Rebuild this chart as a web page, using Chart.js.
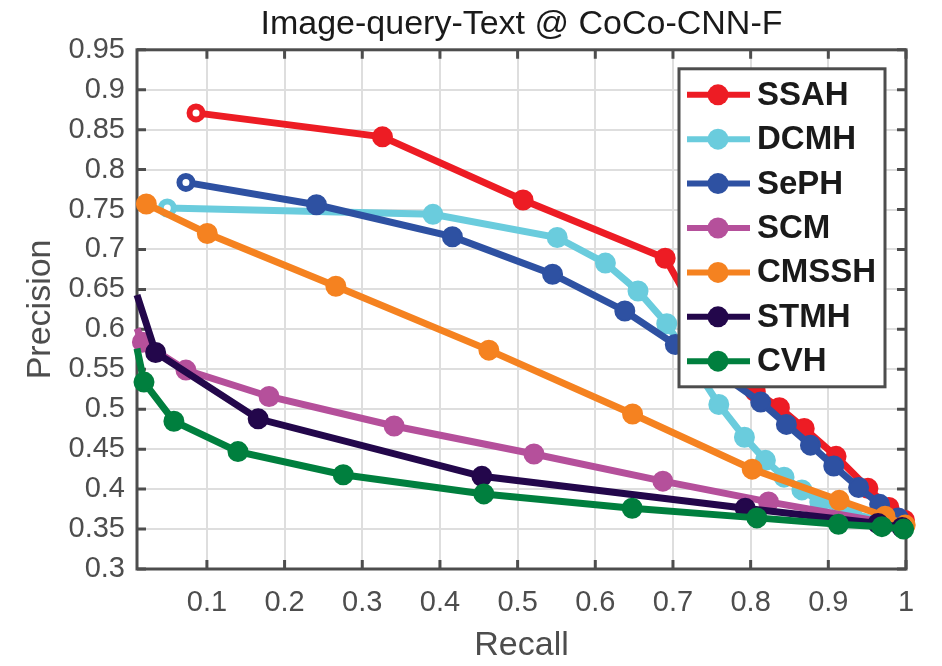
<!DOCTYPE html>
<html>
<head>
<meta charset="utf-8">
<script src="https://cdn.jsdelivr.net/npm/chart.js@4.4.1/dist/chart.umd.min.js"></script>
<style>
  html, body { margin: 0; padding: 0; background: #fff; }
  #wrap { width: 942px; height: 666px; }
</style>
</head>
<body>
<div id="wrap"><canvas id="prChart" width="942" height="666"></canvas></div>
<script>
// values (recall / precision)
var methods = ['SSAH', 'DCMH', 'SePH', 'SCM', 'CMSSH', 'STMH', 'CVH'];

var recallSSAH = [0.086, 0.326, 0.507, 0.690, 0.730, 0.806, 0.837, 0.869, 0.910, 0.951, 0.978, 0.998];
var precSSAH   = [0.871, 0.841, 0.762, 0.689, 0.620, 0.522, 0.502, 0.476, 0.441, 0.401, 0.377, 0.361];

var recallDCMH = [0.049, 0.391, 0.551, 0.613, 0.655, 0.692, 0.759, 0.792, 0.819, 0.843, 0.866, 0.889, 0.930, 0.968];
var precDCMH   = [0.752, 0.744, 0.715, 0.683, 0.648, 0.607, 0.506, 0.465, 0.436, 0.415, 0.399, 0.384, 0.370, 0.360];

var recallSePH = [0.073, 0.241, 0.416, 0.545, 0.638, 0.703, 0.760, 0.813, 0.846, 0.877, 0.907, 0.939, 0.966, 0.990];
var precSePH   = [0.784, 0.756, 0.716, 0.669, 0.623, 0.581, 0.545, 0.509, 0.481, 0.455, 0.429, 0.402, 0.381, 0.364];

var recallSCM = [0.010, 0.017, 0.073, 0.180, 0.341, 0.521, 0.687, 0.823, 0.975];
var precSCM   = [0.601, 0.584, 0.549, 0.516, 0.479, 0.444, 0.410, 0.384, 0.358];

var recallCMSSH = [0.022, 0.1005, 0.266, 0.463, 0.648, 0.802, 0.914, 0.973, 0.999];
var precCMSSH   = [0.757, 0.720, 0.654, 0.574, 0.494, 0.425, 0.386, 0.366, 0.355];

var recallSTMH = [0.010, 0.034, 0.166, 0.454, 0.793, 0.964, 0.995];
var precSTMH   = [0.643, 0.571, 0.488, 0.416, 0.376, 0.357, 0.352];

var recallCVH = [0.010, 0.019, 0.0575, 0.140, 0.2755, 0.4565, 0.6475, 0.808, 0.913, 0.969, 0.997];
var precCVH   = [0.576, 0.534, 0.485, 0.447, 0.418, 0.394, 0.376, 0.364, 0.356, 0.353, 0.350];

var xTicks = [0.1, 0.2, 0.3, 0.4, 0.5, 0.6, 0.7, 0.8, 0.9, 1];
var yTicks = [0.3, 0.35, 0.4, 0.45, 0.5, 0.55, 0.6, 0.65, 0.7, 0.75, 0.8, 0.85, 0.9, 0.95];

var colors = ['#ED1C24', '#6ACCDD', '#2E51A2', '#B5509B', '#F58220', '#23074B', '#007F3E'];
// how the first point of each curve looks: 'ring', 'dot' or 'none'
var firstPoint = ['ring', 'ring', 'ring', 'none', 'dot', 'none', 'none'];

var recalls = [recallSSAH, recallDCMH, recallSePH, recallSCM, recallCMSSH, recallSTMH, recallCVH];
var precisions = [precSSAH, precDCMH, precSePH, precSCM, precCMSSH, precSTMH, precCVH];

var FONT = '"Liberation Sans", Arial, Helvetica, sans-serif';

function makeDataset(i) {
  var pts = recalls[i].map(function (r, k) { return { x: r, y: precisions[i][k] }; });
  var radius = [], border = [], fill = [];
  pts.forEach(function (p, k) {
    if (k === 0 && firstPoint[i] === 'ring') { radius.push(6.5); border.push(6); fill.push('#ffffff'); }
    else if (k === 0 && firstPoint[i] === 'none') { radius.push(0); border.push(0); fill.push(colors[i]); }
    else { radius.push(9.5); border.push(2); fill.push(colors[i]); }
  });
  return {
    label: methods[i],
    data: pts,
    borderColor: colors[i],
    backgroundColor: colors[i],
    borderWidth: 7,
    pointRadius: radius,
    pointBorderWidth: border,
    pointBackgroundColor: fill,
    pointBorderColor: colors[i],
    pointHoverRadius: radius,
    tension: 0,
    clip: false,
    order: methods.length - i
  };
}

// box, inward tick marks
var framePlugin = {
  id: 'frame',
  beforeDatasetsDraw: function (chart) {
    var a = chart.chartArea, c = chart.ctx;
    var sx = chart.scales.x, sy = chart.scales.y;
    c.save();
    c.strokeStyle = '#4d4d4d';
    c.lineWidth = 3;
    c.strokeRect(a.left, a.top, a.right - a.left, a.bottom - a.top);
    c.beginPath();
    xTicks.forEach(function (v) {
      var p = sx.getPixelForValue(v);
      c.moveTo(p, a.bottom); c.lineTo(p, a.bottom - 9);
      c.moveTo(p, a.top); c.lineTo(p, a.top + 9);
    });
    yTicks.forEach(function (v) {
      var p = sy.getPixelForValue(v);
      c.moveTo(a.left, p); c.lineTo(a.left + 9, p);
      c.moveTo(a.right, p); c.lineTo(a.right - 9, p);
    });
    c.stroke();
    c.restore();
  }
};

// boxed legend in the upper right corner, line + marker + bold name
var boxLegend = {
  id: 'boxLegend',
  afterDraw: function (chart) {
    var a = chart.chartArea, c = chart.ctx;
    var w = 206, h = 318;
    var left = a.right - 21 - w, top = a.top + 19;
    c.save();
    c.fillStyle = '#ffffff';
    c.fillRect(left, top, w, h);
    c.strokeStyle = '#4d4d4d';
    c.lineWidth = 3;
    c.strokeRect(left, top, w, h);
    c.font = 'bold 33px ' + FONT;
    c.textBaseline = 'middle';
    c.textAlign = 'left';
    methods.forEach(function (name, i) {
      var y = top + 26 + i * 44.4;
      c.strokeStyle = colors[i];
      c.lineWidth = 6;
      c.beginPath();
      c.moveTo(left + 8, y);
      c.lineTo(left + 71, y);
      c.stroke();
      c.fillStyle = colors[i];
      c.beginPath();
      c.arc(left + 39, y, 10.5, 0, Math.PI * 2);
      c.fill();
      c.fillStyle = '#1a1a1a';
      c.fillText(name, left + 78, y + 1);
    });
    c.restore();
  }
};

new Chart(document.getElementById('prChart'), {
  type: 'line',
  data: { datasets: methods.map(function (m, i) { return makeDataset(i); }) },
  plugins: [framePlugin, boxLegend],
  options: {
    responsive: false,
    animation: false,
    layout: { padding: { top: 0, right: 36, bottom: 0, left: 0 } },
    plugins: {
      legend: { display: false },
      tooltip: { enabled: false },
      title: {
        display: true,
        fullSize: false,
        text: 'Image-query-Text @ CoCo-CNN-F',
        color: '#1a1a1a',
        font: { family: FONT, size: 34, weight: 'normal', lineHeight: 1.2 },
        padding: { top: 4, bottom: 5 }
      }
    },
    scales: {
      x: {
        type: 'linear',
        min: 0.01,
        max: 1,
        afterBuildTicks: function (scale) {
          scale.ticks = xTicks.map(function (v) { return { value: v }; });
        },
        afterFit: function (scale) { scale.height = 97; },
        grid: { color: '#dedede', lineWidth: 2, drawTicks: false },
        border: { display: false },
        ticks: {
          color: '#4d4d4d',
          padding: 17,
          maxRotation: 0,
          autoSkip: false,
          font: { family: FONT, size: 29 },
          callback: function (v) { return String(Math.round(v * 100) / 100); }
        },
        title: {
          display: true,
          text: 'Recall',
          color: '#4d4d4d',
          font: { family: FONT, size: 34 },
          padding: { top: 0, bottom: 0 }
        }
      },
      y: {
        type: 'linear',
        min: 0.3,
        max: 0.95,
        afterBuildTicks: function (scale) {
          scale.ticks = yTicks.map(function (v) { return { value: v }; });
        },
        afterFit: function (scale) { scale.width = 137; },
        grid: { color: '#dedede', lineWidth: 2, drawTicks: false },
        border: { display: false },
        ticks: {
          color: '#4d4d4d',
          padding: 12,
          autoSkip: false,
          font: { family: FONT, size: 29 },
          callback: function (v) { return String(Math.round(v * 100) / 100); }
        },
        title: {
          display: true,
          text: 'Precision',
          color: '#4d4d4d',
          font: { family: FONT, size: 34 },
          padding: { top: 20, bottom: 0 }
        }
      }
    }
  }
});
</script>
</body>
</html>
